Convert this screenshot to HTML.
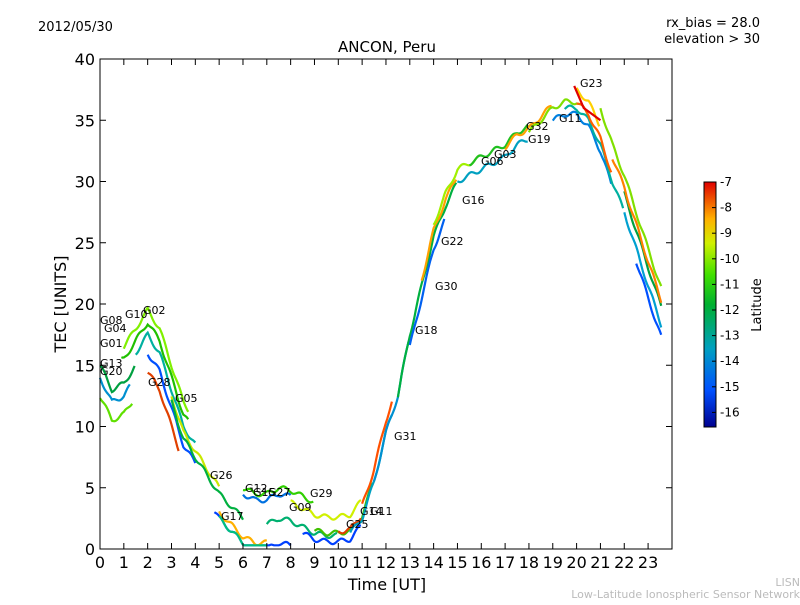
<!DOCTYPE html>
<html><head><meta charset="utf-8"><style>
body{margin:0;background:#fff;width:800px;height:600px;overflow:hidden}
svg text{font-family:"DejaVu Sans","Liberation Sans",sans-serif}
</style></head><body>
<svg id="s" width="800" height="600" xmlns="http://www.w3.org/2000/svg">
<defs><linearGradient id="cb" x1="0" y1="1" x2="0" y2="0">
<stop offset="0" stop-color="#00008f"/><stop offset="0.15" stop-color="#0050ff"/><stop offset="0.32" stop-color="#00a0c0"/><stop offset="0.5" stop-color="#00b030"/><stop offset="0.62" stop-color="#40e000"/><stop offset="0.75" stop-color="#d0f000"/><stop offset="0.85" stop-color="#ffb000"/><stop offset="1" stop-color="#e00000"/></linearGradient></defs>
<rect x="0" y="0" width="800" height="600" fill="#fff"/>
<g id="data"></g>
<rect x="100" y="59" width="572" height="490" fill="none" stroke="#000" stroke-width="1"/>
<g id="ticks" stroke="#000"></g>
<g id="lbl" font-size="16"></g>
<text x="387" y="52" font-size="15" text-anchor="middle">ANCON, Peru</text>
<text x="38" y="31" font-size="13">2012/05/30</text>
<text x="760" y="27" font-size="13" text-anchor="end">rx_bias = 28.0</text>
<text x="760" y="43" font-size="13" text-anchor="end">elevation &gt; 30</text>
<text x="387" y="590" font-size="16" text-anchor="middle">Time [UT]</text>
<text x="66" y="304" font-size="16" text-anchor="middle" transform="rotate(-90 66 304)">TEC [UNITS]</text>
<rect x="704" y="182" width="12" height="245" fill="url(#cb)" stroke="#000" stroke-width="1"/>
<g id="cbt" font-size="12"></g>
<text x="761" y="305" font-size="13" text-anchor="middle" transform="rotate(-90 761 305)">Latitude</text>
<text x="800" y="586" font-size="11" fill="#bbb" text-anchor="end">LISN</text>
<text x="800" y="598" font-size="11" fill="#bbb" text-anchor="end">Low-Latitude Ionospheric Sensor Network</text>
<g id="sat" font-size="11"></g>
</svg>
<script>
const NS="http://www.w3.org/2000/svg";
function el(p,t,a,txt){const e=document.createElementNS(NS,t);for(const k in a)e.setAttribute(k,a[k]);if(txt!==undefined)e.textContent=txt;document.getElementById(p).appendChild(e);return e;}
const X=h=>100+h*23.83, Y=v=>549-v*12.25;
for(let h=0;h<=23;h++){el("ticks","line",{x1:X(h),y1:549,x2:X(h),y2:543});el("ticks","line",{x1:X(h),y1:59,x2:X(h),y2:65});el("lbl","text",{x:X(h),y:568,"text-anchor":"middle"},h);}
for(let v=0;v<=40;v+=5){el("ticks","line",{x1:100,y1:Y(v),x2:106,y2:Y(v)});el("ticks","line",{x1:672,y1:Y(v),x2:666,y2:Y(v)});el("lbl","text",{x:95,y:Y(v)+6,"text-anchor":"end"},v);}
for(let i=0;i<10;i++){const y=182+i*25.6;el("cbt","line",{x1:716,y1:y,x2:712,y2:y,stroke:"#000"});el("cbt","text",{x:720,y:y+4},-7-i);}
const T=[[0,15],[0.5,13],[1,13.5],[1.5,15],[2,16.5],[2.5,15],[3,12],[3.5,9],[4,7.5],[4.5,6],[5,4.5],[5.5,3.5],[6,2.5],[6.5,2],[7,2],[7.5,2.5],[8,2.3],[8.5,1.8],[9,1.3],[9.5,1.1],[10,1.1],[10.5,1.3],[11,2.5],[11.5,5.5],[12,9.5],[12.5,12.5],[13,17.5],[13.5,21.5],[14,25.5],[14.5,28],[15,30],[15.5,30.5],[16,31],[16.5,31.5],[17,32],[17.5,33],[18,33.5],[18.5,34.5],[19,35.5],[19.5,36],[20,36],[20.5,35],[21,33],[21.5,30],[22,27.5],[22.5,24.5],[23,21.5],[23.6,18],[24,16]];
function f(h){for(let i=0;i<T.length-1;i++){if(h<=T[i+1][0]){const t=(h-T[i][0])/(T[i+1][0]-T[i][0]);return T[i][1]+t*(T[i+1][1]-T[i][1]);}}return 15;}
function seg(a,b,off,c){let d="";for(let h=a;h<=b;h+=0.05){const v=f(h)+off+0.2*Math.sin(h*9+off*3);d+=(d?"L":"M")+X(h).toFixed(1)+","+Y(Math.max(0.3,v)).toFixed(1);}el("data","path",{d:d,fill:"none",stroke:c,"stroke-width":2.2});}
const S=[[0,1.3,-1,"#0090d0"],[0,1.5,0,"#00a040"],[0,1.4,-2.5,"#60e000"],[0.9,3.7,2,"#20c000"],[1,3.7,3,"#80f000"],[1.5,4,1,"#00b0a0"],[2,4,-0.5,"#0050ff"],[2,3.3,-2,"#e04000"],[3,5,0.5,"#c8e800"],[3,6,0,"#00b040"],[4.8,8,-2,"#0040ff"],[5,7,-1.5,"#ffb000"],[5,7,-2,"#00c080"],[6,8,2,"#0070e0"],[6,9,2.5,"#30d000"],[7,10,0,"#00b070"],[8,11,1.5,"#d0f000"],[8.5,11,-0.5,"#0040ff"],[9,11.5,0.2,"#40c000"],[10,11,0.3,"#e04000"],[10.5,12.3,0,"#00a0c0"],[11,12.3,1,"#ff5000"],[11.5,13,0,"#0090d0"],[12.5,15,0,"#00b040"],[13,14.5,-1,"#0060f0"],[13.5,15,0.5,"#ffa000"],[14,16,1,"#a0f000"],[15,18,0,"#00a0c0"],[15.5,18,1,"#20c020"],[17,19,0.8,"#ffa000"],[18,20.5,0.5,"#80e000"],[19,21.5,-0.5,"#0080e0"],[19.5,22,0,"#00b0a0"],[20,21,1.5,"#ffd000"],[20,21.5,0.5,"#ff6000"],[21,23.6,3,"#80e000"],[22,23.6,1.5,"#00a040"],[22,23.6,0,"#00a0d0"],[21.5,23.6,2,"#ff8000"],[22.5,23.6,-1,"#0050ff"]];
S.forEach(s=>seg(s[0],s[1],s[2],s[3]));
el("data","path",{d:`M${X(19.9)},${Y(37.8)}L${X(20.3)},${Y(36)}L${X(21)},${Y(35)}`,fill:"none",stroke:"#e00000","stroke-width":2.2});
const L=[["G08",100,324],["G04",104,332],["G10",125,318],["G02",143,314],["G01",100,347],["G13",100,367],["G20",100,375],["G28",148,386],["G05",175,402],["G26",210,479],["G12",245,492],["G15",253,496],["G27",268,496],["G09",289,511],["G29",310,497],["G17",221,520],["G14",360,515],["G11",370,515],["G25",346,528],["G31",394,440],["G18",415,334],["G30",435,290],["G22",441,245],["G16",462,204],["G06",481,165],["G03",494,158],["G32",526,130],["G19",528,143],["G11",559,122],["G23",580,87]];
L.forEach(l=>el("sat","text",{x:l[1],y:l[2]},l[0]));
</script>
</body></html>
